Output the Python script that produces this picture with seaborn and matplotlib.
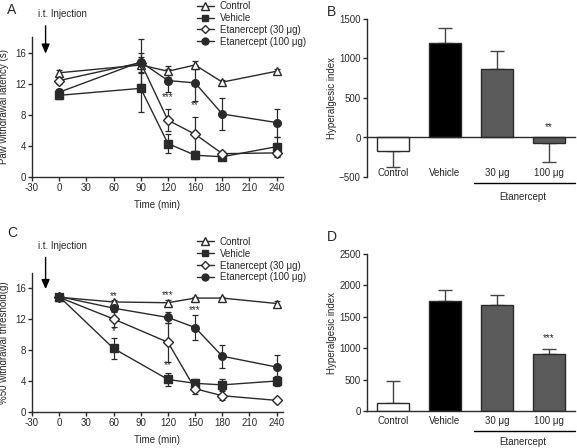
import numpy as np
import pandas as pd
import matplotlib
matplotlib.use("Agg")
import matplotlib.pyplot as plt
import seaborn as sns
from matplotlib.lines import Line2D

# ---------------- data ----------------
series_names = ["Control", "Vehicle", "Etanercept (30 μg)", "Etanercept (100 μg)"]

time_A = [0, 90, 120, 150, 180, 240]
control_A = [13.4, 14.4, 13.6, 14.4, 12.2, 13.6]
control_A_err = [0.4, 1.0, 0.7, 0.5, 0.3, 0.3]
vehicle_A = [10.5, 11.4, 4.3, 2.8, 2.6, 3.9]
vehicle_A_err = [0.5, 3.0, 1.2, 0.5, 0.3, 1.3]
e30_A = [12.4, 14.7, 7.3, 5.5, 3.0, 3.1]
e30_A_err = [0.4, 1.2, 1.4, 2.2, 0.4, 0.4]
e100_A = [10.9, 14.8, 12.4, 12.1, 8.1, 7.0]
e100_A_err = [0.4, 2.9, 1.5, 2.3, 2.0, 1.8]
xtick_labels_A = ["-30", "0", "30", "60", "90", "120", "160", "180", "210", "240"]

time_C = [0, 60, 120, 150, 180, 240]
control_C = [14.8, 14.2, 14.1, 14.7, 14.7, 14.0]
control_C_err = [0.2, 0.3, 0.4, 0.2, 0.2, 0.3]
vehicle_C = [14.9, 8.2, 4.2, 3.7, 3.5, 4.0]
vehicle_C_err = [0.2, 1.4, 0.8, 0.6, 0.7, 0.7]
e30_C = [14.8, 12.0, 9.0, 3.0, 2.1, 1.5]
e30_C_err = [0.2, 1.0, 2.5, 0.7, 0.6, 0.2]
e100_C = [14.9, 13.4, 12.2, 10.9, 7.2, 5.8]
e100_C_err = [0.2, 0.5, 0.7, 1.6, 1.5, 1.5]
xtick_labels_C = ["-30", "0", "30", "60", "90", "120", "150", "180", "210", "240"]

bar_cats = ["Control", "Vehicle", "30 μg", "100 μg"]
hyper_B = [-170, 1195, 870, -65]
hyper_B_err = [205, 185, 225, 250]
hyper_D = [130, 1755, 1690, 910]
hyper_D_err = [345, 170, 160, 75]

# ---------------- style ----------------
sns.set_theme(style="ticks")
plt.rcParams["font.family"] = ["Liberation Sans", "DejaVu Sans"]
plt.rcParams["font.size"] = 7
plt.rcParams["axes.labelsize"] = 7
plt.rcParams["axes.linewidth"] = 1.0
plt.rcParams["xtick.major.size"] = 3
plt.rcParams["ytick.major.size"] = 3
plt.rcParams["xtick.labelsize"] = 7
plt.rcParams["ytick.labelsize"] = 7

LC = "#2a2a2a"
markers = {"Control": "^", "Vehicle": "s", "Etanercept (30 μg)": "D", "Etanercept (100 μg)": "o"}
mfc = {"Control": "white", "Vehicle": LC, "Etanercept (30 μg)": "white", "Etanercept (100 μg)": LC}
msize = {"Control": 6, "Vehicle": 5.5, "Etanercept (30 μg)": 5, "Etanercept (100 μg)": 5.5}

W, H = 577, 448
fig = plt.figure(figsize=(W / 100, H / 100), dpi=100)


def fbox(x0, y0, x1, y1):
    return [x0 / W, 1 - y1 / H, (x1 - x0) / W, (y1 - y0) / H]


def line_panel(ax, t, data, errs, ylabel, xticklabels, arrow_y, annots):
    rows = []
    for name, vals in zip(series_names, data):
        for tt, v in zip(t, vals):
            rows.append({"time": tt, "value": v, "group": name})
    df = pd.DataFrame(rows)
    for name, vals, err in zip(series_names, data, errs):
        ax.errorbar(t, vals, yerr=err, fmt="none", ecolor=LC, elinewidth=0.9,
                    capsize=2.5, capthick=0.9, zorder=2)
    for name in series_names:
        sub = df[df.group == name]
        sns.lineplot(data=sub, x="time", y="value", ax=ax, color=LC, lw=1.0,
                     marker=markers[name], markersize=msize[name],
                     markerfacecolor=mfc[name], markeredgecolor=LC,
                     markeredgewidth=1.0, label=name, zorder=3, legend=False)
    ax.set_xlim(-30, 247)
    ax.set_ylim(0, 18)
    ax.set_xticks(list(range(-30, 241, 30)))
    ax.set_xticklabels(xticklabels)
    ax.set_yticks([0, 4, 8, 12, 16])
    ax.set_xlabel("Time (min)", labelpad=5)
    ax.set_ylabel(ylabel, labelpad=4)
    ax.spines[["top", "right"]].set_visible(False)
    ax.tick_params(colors=LC, width=1.0, pad=1.5)
    for s in ["left", "bottom"]:
        ax.spines[s].set_color(LC)
    ax.annotate("", xy=(-15, 15.5), xytext=(-15, arrow_y),
                arrowprops=dict(arrowstyle="-|>,head_length=0.8,head_width=0.35",
                                color="black", lw=1.0),
                annotation_clip=False)
    ax.text(-23, arrow_y + 0.5, "i.t. Injection", ha="left", va="bottom", fontsize=7)
    for (x, y, s) in annots:
        ax.text(x, y, s, ha="center", va="center", fontsize=7, color=LC)
    handles = []
    for name in series_names:
        handles.append(Line2D([0], [0], color=LC, lw=1.0, marker=markers[name],
                              markersize=msize[name] - 0.5, markerfacecolor=mfc[name],
                              markeredgecolor=LC))
    ax.legend(handles, series_names, loc="upper left", bbox_to_anchor=(0.64, 1.285),
              frameon=False, fontsize=7, handlelength=1.8, handletextpad=0.6,
              labelspacing=0.2, borderaxespad=0)


def bar_panel(ax, vals, errs, ylim, yticks, annot, lab_y, line_y, eta_y):
    df = pd.DataFrame({"cat": bar_cats, "val": vals})
    sns.barplot(data=df, x="cat", y="val", hue="cat", order=bar_cats,
                palette=["white", "black", "#5b5b5b", "#5b5b5b"], legend=False,
                width=0.62, edgecolor=LC, linewidth=1.0, ax=ax, zorder=2)
    for i, (v, e) in enumerate(zip(vals, errs)):
        sign = 1 if v >= 0 else -1
        ax.errorbar([i], [v], yerr=[[0], [e]] if sign > 0 else [[e], [0]],
                    fmt="none", ecolor="#444444", elinewidth=1.0, capsize=5,
                    capthick=1.0, zorder=1)
    ax.set_xlim(-0.5, 3.5)
    ax.set_ylim(*ylim)
    ax.set_yticks(yticks)
    ax.set_xlabel("")
    ax.set_ylabel("Hyperalgesic index", labelpad=1.5)
    ax.spines[["top", "right"]].set_visible(False)
    ax.spines["bottom"].set_position(("data", 0))
    ax.spines["left"].set_color(LC)
    ax.spines["bottom"].set_color(LC)
    ax.tick_params(axis="x", length=0, labelbottom=False)
    ax.tick_params(axis="y", colors=LC, width=1.0, pad=1.5)
    trans = matplotlib.transforms.blended_transform_factory(ax.transData, ax.transAxes)
    for i, c in enumerate(bar_cats):
        ax.text(i, lab_y, c, transform=trans, ha="center", va="center", fontsize=7)
    ax.plot([1.55, 3.5], [line_y, line_y], transform=trans, color="black", lw=1.0,
            clip_on=False)
    ax.text(2.5, eta_y, "Etanercept", transform=trans, ha="center", va="center",
            fontsize=7)
    ax.text(annot[0], annot[1], annot[2], ha="center", va="center", fontsize=7)


axA = fig.add_axes(fbox(32, 37, 283, 177))
line_panel(axA, time_A, [control_A, vehicle_A, e30_A, e100_A],
           [control_A_err, vehicle_A_err, e30_A_err, e100_A_err],
           "Paw withdrawal latency (s)", xtick_labels_A, 19.8,
           [(120, 10.3, "***"), (150, 9.2, "**")])

axC = fig.add_axes(fbox(32, 272.5, 283, 412))
line_panel(axC, time_C, [control_C, vehicle_C, e30_C, e100_C],
           [control_C_err, vehicle_C_err, e30_C_err, e100_C_err],
           "%50 withdrawal threshold(g)", xtick_labels_C, 20.3,
           [(60, 14.9, "**"), (60, 10.4, "*"), (120, 15.1, "***"),
            (120, 6.1, "**"), (150, 13.1, "***")])

axB = fig.add_axes(fbox(367, 19, 575, 177))
bar_panel(axB, hyper_B, hyper_B_err, (-500, 1500), [-500, 0, 500, 1000, 1500],
          (3, 130, "**"), 0.025, -0.038, -0.127)

axD = fig.add_axes(fbox(367, 254, 575, 411))
bar_panel(axD, hyper_D, hyper_D_err, (0, 2500), [0, 500, 1000, 1500, 2000, 2500],
          (3, 1160, "***"), -0.064, -0.127, -0.197)

for lab, x, y in [("A", 12, 10), ("B", 332, 12), ("C", 12, 233), ("D", 332, 237)]:
    fig.text(x / W, 1 - y / H, lab, fontsize=10, ha="center", va="center")

fig.savefig("out.png", dpi=100)
